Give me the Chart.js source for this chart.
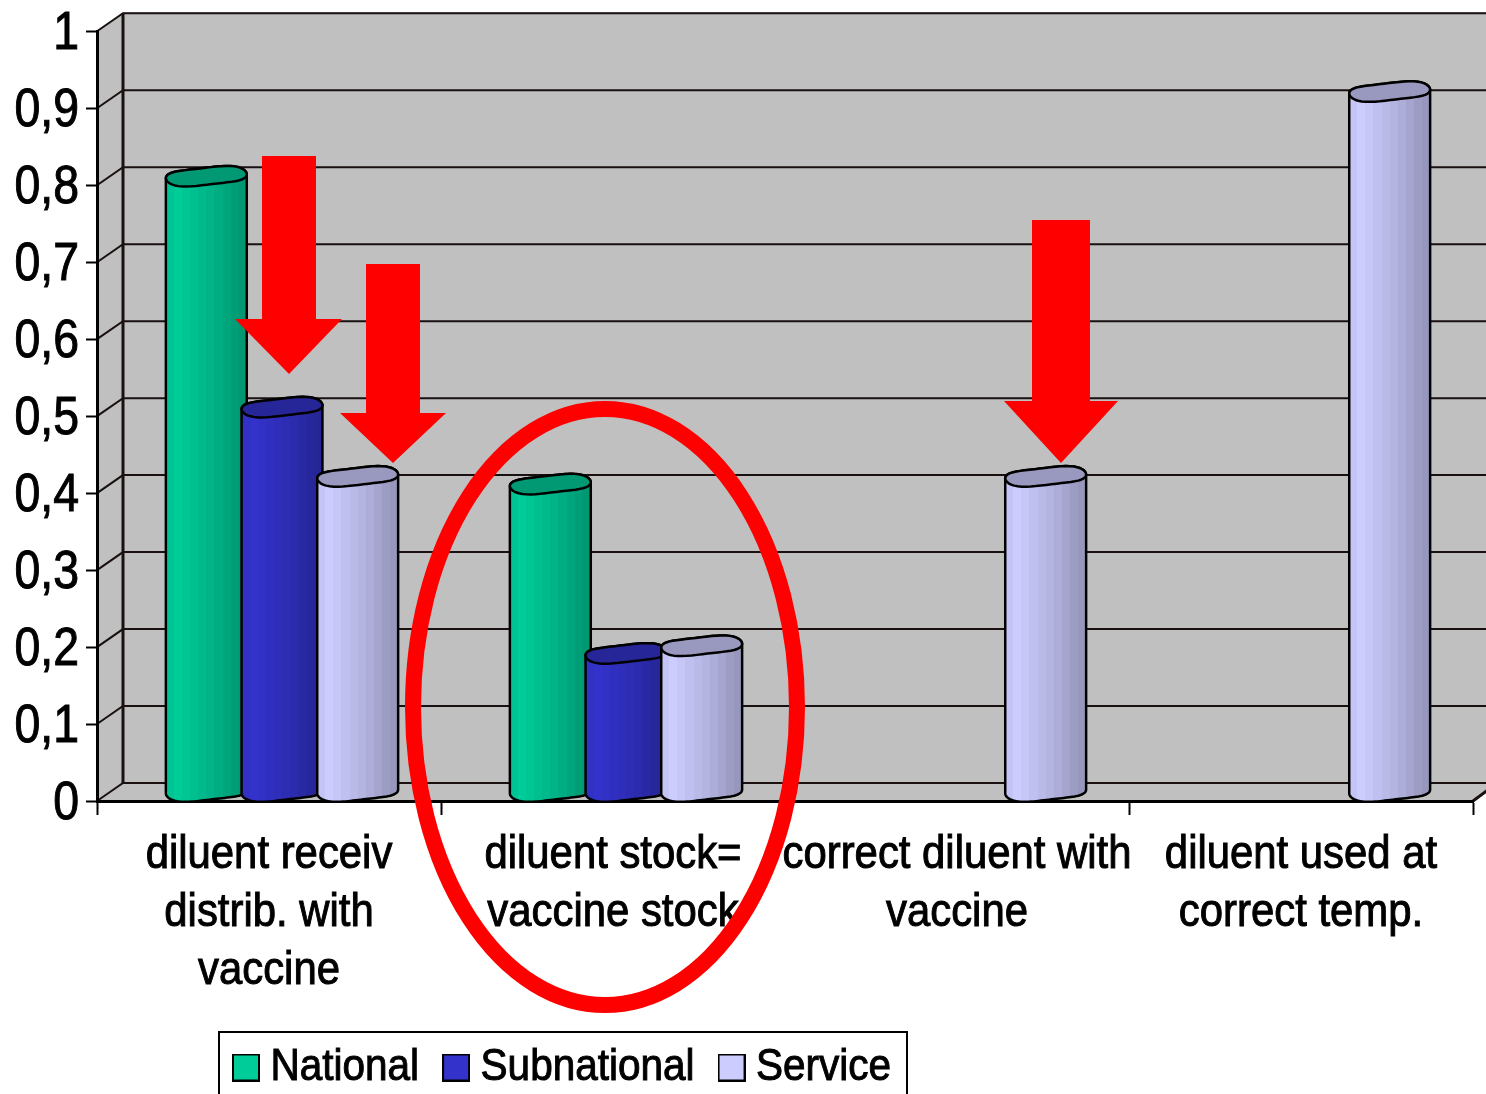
<!DOCTYPE html>
<html>
<head>
<meta charset="utf-8">
<title>Diluent chart</title>
<script src="https://cdn.jsdelivr.net/npm/chart.js@4"></script>
<style>
html, body { margin: 0; padding: 0; background: #fff; overflow: hidden; }
canvas { display: block; }
</style>
</head>
<body>
<canvas id="myChart" width="1486" height="1094"></canvas>
<script>
// values
const categories = [
    ['diluent receiv', 'distrib. with', 'vaccine'],
    ['diluent stock=', 'vaccine stock'],
    ['correct diluent with', 'vaccine'],
    ['diluent used at', 'correct temp.']
];
const national = [0.8, 0.4, null, null];
const subnational = [0.5, 0.18, null, null];
const service = [0.41, 0.19, 0.41, 0.91];
const yTickLabels = ['0', '0,1', '0,2', '0,3', '0,4', '0,5', '0,6', '0,7', '0,8', '0,9', '1'];

const colNational = [0, 204, 153];
const colSubnational = [51, 51, 204];
const colService = [204, 204, 255];

const fontFam = '"Liberation Sans", Arial, sans-serif';
const depthX = 26, depthY = 18;
// left to right shading of the cylinder
const bands = [0.96, 1, 0.97, 0.94, 0.91, 0.88, 0.85, 0.81, 0.77, 0.74];
// no narrow font installed, so squeeze by font size
const squeeze = { 54: 0.86, 46: 0.91, 45: 0.9 };

function rgb(c, f) {
    f = f === undefined ? 1 : f;
    return 'rgb(' + Math.round(c[0] * f) + ',' + Math.round(c[1] * f) + ',' + Math.round(c[2] * f) + ')';
}

function narrowText(ctx) {
    const fill = ctx.fillText.bind(ctx);
    const stroke = ctx.strokeText.bind(ctx);
    const measure = ctx.measureText.bind(ctx);
    const factor = () => squeeze[parseInt(ctx.font.match(/(\d+)px/)[1])] || 1;
    ctx.fillText = function (t, x, y) {
        let f = factor();
        ctx.save();
        ctx.translate(x, y);
        ctx.scale(f, 1);
        fill(t, 0, 0);
        ctx.strokeStyle = ctx.fillStyle;
        ctx.lineWidth = 1;
        stroke(t, 0, 0);
        ctx.restore();
    };
    ctx.measureText = function (t) {
        return { width: measure(t).width * factor() };
    };
}

function legendSwatch(c) {
    let s = document.createElement('canvas');
    s.width = 28;
    s.height = 28;
    let g = s.getContext('2d');
    g.fillStyle = rgb(c);
    g.fillRect(1, 1, 26, 26);
    g.strokeStyle = '#000';
    g.lineWidth = 2;
    g.strokeRect(1, 1, 26, 26);
    return s;
}

// slightly uneven tilted disc, t in radians
function discPoint(cx, cy, rx, ry, t) {
    let rot = -0.07;
    let px = rx * Math.cos(t);
    let py = ry * Math.sin(t) + 1.2 * Math.sin(3 * t + 0.6);
    return [cx + px * Math.cos(rot) - py * Math.sin(rot), cy + px * Math.sin(rot) + py * Math.cos(rot)];
}

function traceDisc(ctx, cx, cy, rx, ry, from, to) {
    for (let i = 0; i <= 48; i++) {
        let p = discPoint(cx, cy, rx, ry, from + (to - from) * i / 48);
        ctx.lineTo(p[0], p[1]);
    }
}

function drawCylinder(ctx, cx, yTop, yBase, w, c) {
    let rx = w / 2, ry = 9.5;
    let grad = ctx.createLinearGradient(cx - rx, 0, cx + rx, 0);
    bands.forEach((f, i) => {
        grad.addColorStop(i / bands.length, rgb(c, f));
        grad.addColorStop((i + 1) / bands.length, rgb(c, f));
    });
    ctx.beginPath();
    traceDisc(ctx, cx, yBase, rx, ry, 0, Math.PI);
    traceDisc(ctx, cx, yTop, rx, ry, Math.PI, Math.PI * 2);
    ctx.closePath();
    ctx.fillStyle = grad;
    ctx.fill();
    ctx.lineWidth = 2.5;
    ctx.lineJoin = 'round';
    ctx.strokeStyle = '#000';
    ctx.stroke();
    ctx.beginPath();
    traceDisc(ctx, cx, yTop, rx, ry, 0, Math.PI * 2);
    ctx.closePath();
    ctx.fillStyle = rgb(c, 0.75);
    ctx.fill();
    ctx.stroke();
}

function drawArrow(ctx, a) {
    ctx.beginPath();
    ctx.moveTo(a.x0, a.top);
    ctx.lineTo(a.x1, a.top);
    ctx.lineTo(a.x1, a.neck);
    ctx.lineTo(a.hr, a.neck);
    ctx.lineTo(a.tipX, a.tipY);
    ctx.lineTo(a.hl, a.neck);
    ctx.lineTo(a.x0, a.neck);
    ctx.closePath();
    ctx.fillStyle = '#ff0000';
    ctx.fill();
}

const arrows = [
    { x0: 262, x1: 316, top: 156, neck: 319, hl: 235, hr: 342, tipX: 289, tipY: 374 },
    { x0: 366, x1: 420, top: 264, neck: 413, hl: 340, hr: 446, tipX: 393, tipY: 463 },
    { x0: 1032, x1: 1090, top: 220, neck: 401, hl: 1004, hr: 1118, tipX: 1061, tipY: 463 }
];

const cylinders3d = {
    id: 'cylinders3d',
    afterLayout(chart) {
        // legend sits in its own box, lower left of centre
        chart.legend.left = 209;
        chart.legend.top = 1010;
    },
    beforeDraw(chart) {
        const ctx = chart.ctx, a = chart.chartArea, yS = chart.scales.y;
        const right = chart.width + 2;
        ctx.save();
        // back wall, side wall and floor
        ctx.fillStyle = '#c0c0c0';
        ctx.beginPath();
        ctx.moveTo(a.left, a.top);
        ctx.lineTo(a.left + depthX, a.top - depthY - 1);
        ctx.lineTo(right, a.top - depthY - 1);
        ctx.lineTo(right, a.bottom - 11);
        ctx.lineTo(a.right, a.bottom);
        ctx.lineTo(a.left, a.bottom);
        ctx.closePath();
        ctx.fill();
        ctx.strokeStyle = '#1a1010';
        ctx.lineWidth = 2;
        yS.ticks.forEach(t => {
            let y = yS.getPixelForValue(t.value);
            ctx.beginPath();
            ctx.moveTo(a.left, y);
            ctx.lineTo(a.left + depthX, y - depthY);
            ctx.lineTo(right, y - depthY);
            ctx.stroke();
        });
        ctx.lineWidth = 3;
        ctx.beginPath();
        ctx.moveTo(a.left + depthX, a.top - depthY);
        ctx.lineTo(a.left + depthX, a.bottom - depthY);
        ctx.stroke();
        ctx.beginPath();
        ctx.moveTo(a.right, a.bottom);
        ctx.lineTo(right, a.bottom - 11);
        ctx.stroke();
        ctx.restore();
    },
    beforeDatasetDraw() {
        return false; // bars are drawn as cylinders below
    },
    afterDatasetsDraw(chart) {
        const ctx = chart.ctx;
        ctx.save();
        chart.data.datasets.forEach((ds, i) => {
            chart.getDatasetMeta(i).data.forEach((bar, j) => {
                if (ds.data[j] === null) return;
                drawCylinder(ctx, bar.x + depthX / 2, bar.y - depthY / 2, bar.base - depthY / 2, 81, ds.rawColor);
            });
        });
        arrows.forEach(ar => drawArrow(ctx, ar));
        ctx.restore();
    },
    afterDraw(chart) {
        const ctx = chart.ctx;
        ctx.save();
        ctx.strokeStyle = '#000';
        ctx.lineWidth = 2;
        ctx.strokeRect(219, 1032, 688, 80);
        ctx.strokeStyle = '#ff0000';
        ctx.lineWidth = 16;
        ctx.beginPath();
        ctx.ellipse(605, 707, 192, 298, 0, 0, Math.PI * 2);
        ctx.stroke();
        ctx.restore();
    }
};

let myChart = document.getElementById('myChart').getContext('2d');
narrowText(myChart);

let barChart = new Chart(myChart, {
    type: 'bar',
    plugins: [cylinders3d],
    data: {
        labels: categories,
        datasets: [
            { label: 'National', data: national, backgroundColor: rgb(colNational), rawColor: colNational },
            { label: 'Subnational', data: subnational, backgroundColor: rgb(colSubnational), rawColor: colSubnational },
            { label: 'Service', data: service, backgroundColor: rgb(colService), rawColor: colService }
        ]
    },
    options: {
        responsive: false,
        animation: false,
        events: [],
        categoryPercentage: 0.66,
        barPercentage: 1,
        layout: { padding: { top: 31, right: 13, left: 0, bottom: 0 } },
        scales: {
            x: {
                grid: { offset: true, drawOnChartArea: false, tickLength: 14, tickWidth: 2, tickColor: '#000' },
                border: { color: '#000', width: 3 },
                ticks: {
                    color: '#000',
                    maxRotation: 0,
                    autoSkip: false,
                    padding: 11,
                    font: { family: fontFam, size: 46, lineHeight: 1.26 }
                },
                afterFit(s) { s.height = 293 - s.chart.legend.height; }
            },
            y: {
                min: 0,
                max: 1,
                grid: { drawOnChartArea: false, tickLength: 11, tickWidth: 2, tickColor: '#000' },
                border: { color: '#000', width: 3 },
                ticks: {
                    stepSize: 0.1,
                    color: '#000',
                    padding: 7,
                    labelOffset: 3,
                    font: { family: fontFam, size: 54, lineHeight: 0.9 },
                    callback: (v, i) => yTickLabels[i]
                },
                afterFit(s) { s.width = 97; }
            }
        },
        plugins: {
            title: { display: false },
            tooltip: { enabled: false },
            legend: {
                position: 'bottom',
                align: 'start',
                labels: {
                    usePointStyle: true,
                    pointStyleWidth: 4,
                    boxHeight: 27,
                    padding: 35,
                    color: '#000',
                    font: { family: fontFam, size: 45 },
                    generateLabels: chart => chart.data.datasets.map((ds, i) => ({
                        text: ds.label,
                        datasetIndex: i,
                        pointStyle: legendSwatch(ds.rawColor),
                        fontColor: '#000',
                        lineWidth: 0
                    }))
                }
            }
        }
    }
});
</script>
</body>
</html>
